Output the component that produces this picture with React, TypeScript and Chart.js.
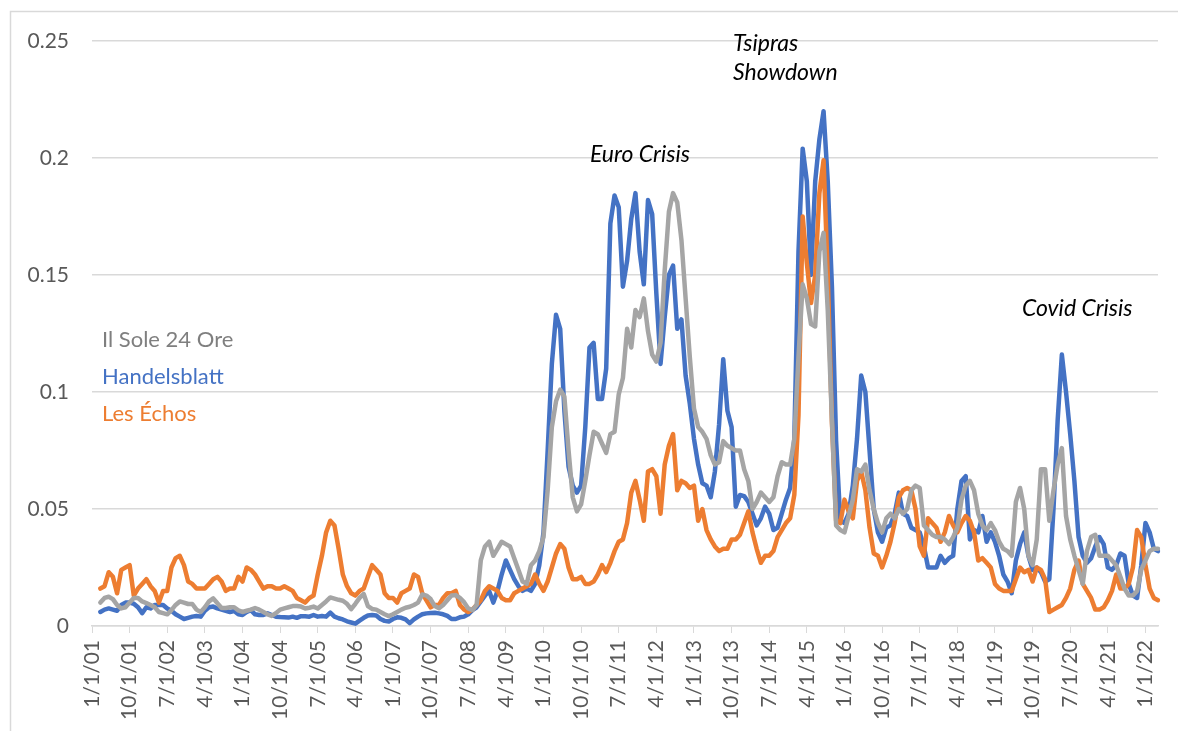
import React, { useEffect, useRef } from 'react';
import { Chart, registerables } from 'chart.js';
Chart.register(...registerables);

const FONT = 'Lato, "Open Sans", sans-serif';

// Monthly categories 1/1/01 .. 4/1/22
const categories: string[] = [];
for (let i = 0; i < 256; i++) {
  const m = (i % 12) + 1;
  const y = 1 + Math.floor(i / 12);
  categories.push(`${m}/1/${String(y).padStart(2, '0')}`);
}

const yTicks = [0, 0.05, 0.1, 0.15, 0.2, 0.25];

const handelsblatt: (number | null)[] = [
  null, null, 0.006, 0.007, 0.0075, 0.007, 0.0065, 0.009, 0.010, 0.010, 0.0095, 0.008,
  0.0055, 0.008, 0.0075, 0.009, 0.009, 0.009, 0.0075, 0.0065, 0.005, 0.004, 0.003, 0.0035,
  0.004, 0.0043, 0.004, 0.0065, 0.008, 0.0083, 0.0075, 0.007, 0.0065, 0.006, 0.0064, 0.005,
  0.0047, 0.006, 0.0068, 0.005, 0.0047, 0.0047, 0.0054, 0.0047, 0.004, 0.0038, 0.0037, 0.0036,
  0.004, 0.0035, 0.0042, 0.0042, 0.004, 0.0047, 0.004, 0.0043, 0.004, 0.0057, 0.004, 0.0033,
  0.0028, 0.002, 0.0015, 0.001, 0.0023, 0.0035, 0.0045, 0.0047, 0.0045, 0.003, 0.0022, 0.0019,
  0.003, 0.0037, 0.0035, 0.0028, 0.0012, 0.0028, 0.004, 0.005, 0.0054, 0.0056, 0.0057, 0.0054,
  0.005, 0.0043, 0.003, 0.003, 0.0037, 0.004, 0.005, 0.0068, 0.008, 0.0105, 0.013, 0.015,
  0.010, 0.015, 0.022, 0.028, 0.024, 0.020, 0.017, 0.015, 0.016, 0.015, 0.018, 0.026,
  0.040, 0.075, 0.112, 0.133, 0.127, 0.092, 0.068, 0.060, 0.057, 0.060, 0.085, 0.119,
  0.121, 0.097, 0.097, 0.110, 0.172, 0.184, 0.179, 0.145, 0.156, 0.174, 0.185, 0.160,
  0.146, 0.182, 0.176, 0.142, 0.112, 0.132, 0.150, 0.154, 0.127, 0.131, 0.107, 0.095,
  0.080, 0.069, 0.061, 0.060, 0.055, 0.066, 0.086, 0.114, 0.092, 0.085, 0.051, 0.056,
  0.0555, 0.053, 0.048, 0.043, 0.046, 0.051, 0.048, 0.041, 0.042, 0.048, 0.054, 0.059,
  0.080, 0.160, 0.204, 0.190, 0.150, 0.190, 0.208, 0.220, 0.190, 0.145, 0.079, 0.045,
  0.044, 0.048, 0.060, 0.080, 0.107, 0.100, 0.075, 0.050, 0.040, 0.036, 0.042, 0.043,
  0.048, 0.057, 0.048, 0.047, 0.042, 0.041, 0.040, 0.034, 0.025, 0.025, 0.025, 0.030,
  0.027, 0.029, 0.030, 0.050, 0.062, 0.064, 0.037, 0.041, 0.040, 0.047, 0.036, 0.040,
  0.036, 0.030, 0.022, 0.019, 0.014, 0.028, 0.035, 0.040, 0.030, 0.024, 0.025, 0.023,
  0.019, 0.020, 0.050, 0.088, 0.116, 0.100, 0.082, 0.062, 0.038, 0.030, 0.027, 0.029,
  0.034, 0.038, 0.035, 0.025, 0.024, 0.026, 0.031, 0.030, 0.018, 0.013, 0.012, 0.026,
  0.044, 0.040, 0.033, 0.032,
];

const lesEchos: (number | null)[] = [
  null, null, 0.016, 0.017, 0.023, 0.021, 0.014, 0.024, 0.025, 0.026, 0.013, 0.016,
  0.018, 0.020, 0.017, 0.015, 0.010, 0.015, 0.015, 0.025, 0.029, 0.030, 0.026, 0.019,
  0.018, 0.016, 0.016, 0.016, 0.018, 0.020, 0.021, 0.019, 0.015, 0.016, 0.016, 0.021,
  0.019, 0.025, 0.024, 0.022, 0.019, 0.016, 0.017, 0.017, 0.016, 0.016, 0.017, 0.016,
  0.015, 0.012, 0.011, 0.010, 0.012, 0.013, 0.022, 0.030, 0.040, 0.045, 0.043, 0.033,
  0.022, 0.017, 0.014, 0.013, 0.015, 0.016, 0.021, 0.026, 0.024, 0.022, 0.014, 0.012,
  0.012, 0.010, 0.014, 0.015, 0.016, 0.022, 0.021, 0.014, 0.011, 0.008, 0.009, 0.009,
  0.012, 0.014, 0.014, 0.015, 0.009, 0.007, 0.006, 0.007, 0.009, 0.011, 0.015, 0.017,
  0.016, 0.015, 0.012, 0.011, 0.011, 0.014, 0.015, 0.016, 0.017, 0.018, 0.022, 0.018,
  0.015, 0.019, 0.025, 0.031, 0.035, 0.033, 0.025, 0.020, 0.020, 0.021, 0.018, 0.018,
  0.019, 0.022, 0.026, 0.023, 0.027, 0.032, 0.036, 0.037, 0.044, 0.057, 0.062, 0.054,
  0.045, 0.066, 0.067, 0.064, 0.048, 0.069, 0.077, 0.082, 0.058, 0.062, 0.061, 0.059,
  0.060, 0.045, 0.050, 0.041, 0.037, 0.034, 0.032, 0.033, 0.033, 0.037, 0.037, 0.039,
  0.044, 0.049, 0.040, 0.033, 0.027, 0.030, 0.030, 0.032, 0.038, 0.041, 0.044, 0.046,
  0.056, 0.090, 0.175, 0.155, 0.138, 0.150, 0.185, 0.199, 0.150, 0.087, 0.045, 0.044,
  0.054, 0.049, 0.046, 0.062, 0.066, 0.058, 0.042, 0.031, 0.030, 0.025, 0.030, 0.036,
  0.044, 0.055, 0.058, 0.059, 0.058, 0.050, 0.034, 0.030, 0.046, 0.044, 0.042, 0.036,
  0.040, 0.047, 0.043, 0.040, 0.044, 0.047, 0.045, 0.040, 0.028, 0.029, 0.027, 0.025,
  0.018, 0.016, 0.015, 0.015, 0.015, 0.020, 0.025, 0.023, 0.024, 0.019, 0.025, 0.024,
  0.020, 0.006, 0.007, 0.008, 0.009, 0.012, 0.016, 0.024, 0.028, 0.018, 0.015, 0.012,
  0.007, 0.007, 0.008, 0.011, 0.015, 0.022, 0.016, 0.016, 0.018, 0.025, 0.041, 0.038,
  0.026, 0.016, 0.012, 0.011,
];

const ilSole: (number | null)[] = [
  null, null, 0.010, 0.012, 0.0125, 0.0115, 0.009, 0.0075, 0.008, 0.010, 0.012, 0.012,
  0.0105, 0.0098, 0.009, 0.008, 0.006, 0.0055, 0.005, 0.0068, 0.009, 0.0105, 0.010, 0.0094,
  0.0094, 0.007, 0.006, 0.008, 0.0105, 0.0118, 0.0097, 0.0077, 0.0077, 0.008, 0.008, 0.0067,
  0.006, 0.0065, 0.007, 0.0077, 0.007, 0.006, 0.005, 0.0043, 0.0055, 0.007, 0.0075, 0.008,
  0.0085, 0.0085, 0.0083, 0.0075, 0.0078, 0.0083, 0.0075, 0.009, 0.0105, 0.0122, 0.0117, 0.0112,
  0.0108, 0.0095, 0.0072, 0.0095, 0.012, 0.0137, 0.0085, 0.0073, 0.007, 0.006, 0.005, 0.0042,
  0.005, 0.006, 0.007, 0.0078, 0.0082, 0.009, 0.010, 0.0135, 0.013, 0.0115, 0.0085, 0.0076,
  0.009, 0.011, 0.013, 0.0132, 0.012, 0.0102, 0.0075, 0.0068, 0.009, 0.028, 0.034, 0.036,
  0.030, 0.033, 0.036, 0.035, 0.034, 0.029, 0.024, 0.019, 0.018, 0.026, 0.028, 0.032,
  0.038, 0.058, 0.085, 0.096, 0.101, 0.098, 0.075, 0.055, 0.049, 0.052, 0.062, 0.073,
  0.083, 0.082, 0.078, 0.074, 0.082, 0.083, 0.099, 0.106, 0.127, 0.119, 0.135, 0.132,
  0.140, 0.126, 0.116, 0.113, 0.121, 0.152, 0.177, 0.185, 0.181, 0.165, 0.140, 0.115,
  0.093, 0.085, 0.083, 0.080, 0.073, 0.069, 0.070, 0.079, 0.077, 0.076, 0.075, 0.075,
  0.067, 0.062, 0.050, 0.053, 0.057, 0.055, 0.053, 0.055, 0.064, 0.070, 0.069, 0.069,
  0.080, 0.115, 0.146, 0.140, 0.129, 0.128, 0.160, 0.168, 0.135, 0.088, 0.043, 0.041,
  0.040, 0.047, 0.054, 0.067, 0.066, 0.069, 0.058, 0.050, 0.044, 0.040, 0.046, 0.048,
  0.046, 0.050, 0.048, 0.050, 0.058, 0.060, 0.059, 0.043, 0.041, 0.039, 0.038, 0.038,
  0.037, 0.035, 0.038, 0.042, 0.054, 0.060, 0.062, 0.058, 0.048, 0.043, 0.041, 0.044,
  0.041, 0.036, 0.033, 0.032, 0.030, 0.053, 0.059, 0.050, 0.030, 0.026, 0.037, 0.067,
  0.067, 0.045, 0.058, 0.069, 0.076, 0.047, 0.037, 0.030, 0.024, 0.018, 0.032, 0.038,
  0.039, 0.030, 0.030, 0.030, 0.028, 0.026, 0.021, 0.016, 0.013, 0.013, 0.015, 0.024,
  0.028, 0.032, 0.033, 0.033,
];

const seriesNames = ['Handelsblatt', 'Les Échos', 'Il Sole 24 Ore'];
const seriesColors = ['#4472C4', '#ED7D31', '#A5A5A5'];

const legendLabels = ['Il Sole 24 Ore', 'Handelsblatt', 'Les Échos'];
const legendColors = ['#7F7F7F', '#4472C4', '#ED7D31'];
const legendBaselines = [347, 384, 421];

const annotations = [
  { text: 'Euro Crisis', x: 590, y: 162 },
  { text: 'Tsipras', x: 733, y: 51 },
  { text: 'Showdown', x: 733, y: 80 },
  { text: 'Covid Crisis', x: 1022, y: 316 },
];

const overlayPlugin = {
  id: 'overlay',
  beforeDraw(chart: any) {
    const ctx = chart.ctx;
    ctx.save();
    ctx.fillStyle = '#ffffff';
    ctx.fillRect(0, 0, chart.width, chart.height);
    ctx.strokeStyle = '#D9D9D9';
    ctx.lineWidth = 1.5;
    ctx.strokeRect(10.5, 11.5, 1200, 760);
    ctx.restore();
  },
  afterDraw(chart: any) {
    const ctx = chart.ctx;
    ctx.save();
    ctx.textBaseline = 'alphabetic';
    ctx.textAlign = 'left';
    ctx.font = `22px ${FONT}`;
    legendLabels.forEach((t, i) => {
      ctx.fillStyle = legendColors[i];
      ctx.fillText(t, 102, legendBaselines[i]);
    });
    ctx.font = `italic 23px ${FONT}`;
    ctx.fillStyle = '#000000';
    annotations.forEach((a) => ctx.fillText(a.text, a.x, a.y));
    ctx.restore();
  },
};

export default function App() {
  const ref = useRef<HTMLCanvasElement | null>(null);
  useEffect(() => {
    document.body.style.margin = '0';
    const canvas = ref.current;
    if (!canvas) return;
    const data = [handelsblatt, lesEchos, ilSole];
    const chart = new Chart(canvas, {
      type: 'line',
      data: {
        labels: categories,
        datasets: data.map((d, i) => ({
          label: seriesNames[i],
          data: d,
          borderColor: seriesColors[i],
          backgroundColor: seriesColors[i],
          borderWidth: 4.5,
          pointRadius: 0,
          tension: 0,
          spanGaps: false,
          borderJoinStyle: 'round' as const,
          borderCapStyle: 'round' as const,
          order: 2 - i,
        })),
      },
      options: {
        responsive: false,
        animation: false,
        devicePixelRatio: 1,
        layout: { padding: { top: 41, right: 20, bottom: 0, left: 0 } },
        plugins: { legend: { display: false }, tooltip: { enabled: false } },
        scales: {
          x: {
            type: 'category',
            offset: false,
            afterFit: (s: any) => {
              s.height = 105;
              s.paddingLeft = 0;
              s.paddingRight = 0;
            },
            grid: {
              drawOnChartArea: false,
              drawTicks: true,
              tickLength: 7,
              tickColor: (c: any) => (c.index % 9 === 0 ? '#D9D9D9' : 'rgba(0,0,0,0)'),
            },
            border: { display: true, color: '#D9D9D9', width: 1.5 },
            ticks: {
              autoSkip: false,
              minRotation: 90,
              maxRotation: 90,
              padding: 7,
              color: '#595959',
              font: { family: FONT, size: 21 },
              callback: (v: any, idx: number) => (idx % 9 === 0 ? categories[idx] : ''),
            },
          },
          y: {
            min: 0,
            max: 0.25,
            afterFit: (s: any) => {
              s.width = 92;
              s.paddingTop = 0;
              s.paddingBottom = 0;
            },
            afterBuildTicks: (s: any) => { s.ticks = yTicks.map((v) => ({ value: v })); },
            grid: { color: '#D9D9D9', lineWidth: 1.5, drawTicks: false },
            border: { display: false },
            ticks: {
              padding: 23,
              color: '#595959',
              font: { family: FONT, size: 21 },
              callback: (v: any) => String(Number(Number(v).toFixed(2))),
            },
          },
        },
      },
      plugins: [overlayPlugin],
    });
    return () => chart.destroy();
  }, []);
  return (
    <div style={{ position: 'absolute', left: 0, top: 0, width: 1178, height: 731 }}>
      <canvas ref={ref} width={1178} height={731} style={{ display: 'block' }} />
    </div>
  );
}
